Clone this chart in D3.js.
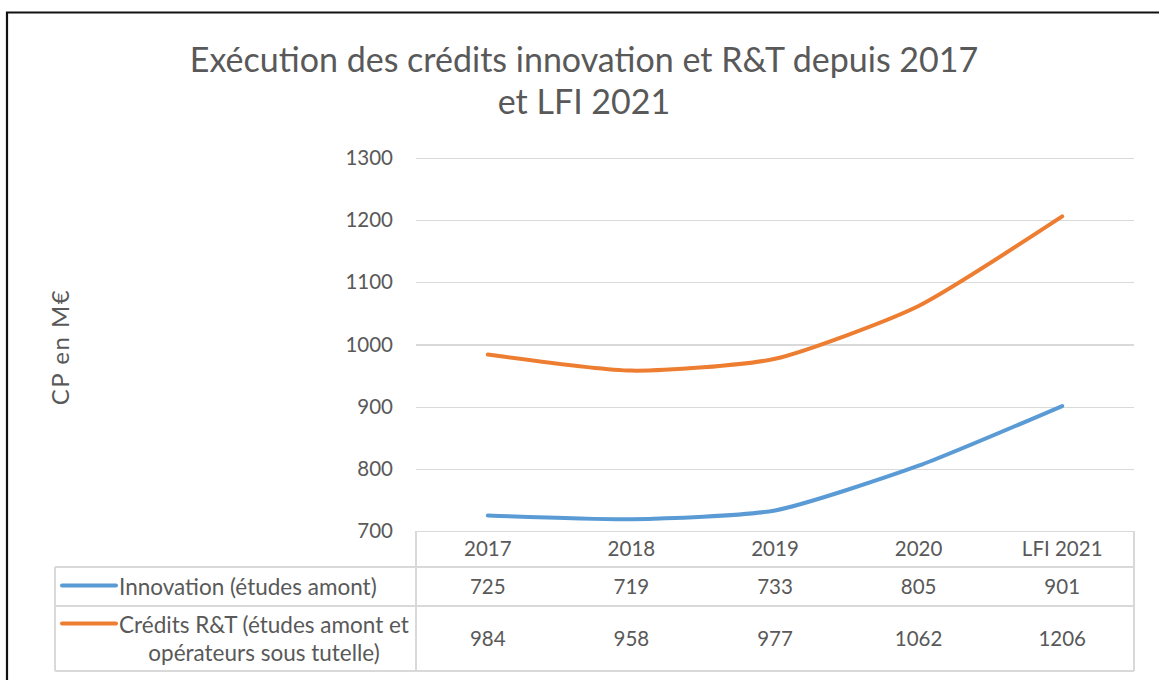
<!DOCTYPE html>
<html>
<head>
<meta charset="utf-8">
<script src="https://cdn.jsdelivr.net/npm/d3@7"></script>
<style>
  html, body { margin:0; padding:0; background:#fff; }
  svg text { font-family: Lato, "Open Sans", sans-serif; fill:#595959; }
  .grid line { stroke:#d9d9d9; stroke-width:1.3; shape-rendering:crispEdges; }
  .grid .domain { display:none; }
  .tbl line { stroke:#d9d9d9; stroke-width:1.3; shape-rendering:crispEdges; }
</style>
</head>
<body>
<svg id="chart" width="1159" height="680"></svg>
<script>
// données
const categories = ["2017", "2018", "2019", "2020", "LFI 2021"];
const innovation = [725, 719, 733, 805, 901];
const creditsRT  = [984, 958, 977, 1062, 1206];
const yTicks = [700, 800, 900, 1000, 1100, 1200, 1300];

const series = [
  { name: ["Innovation (études amont)"], values: innovation, color: "#5b9bd5" },
  { name: ["Crédits R&T (études amont et", "opérateurs sous tutelle)"], values: creditsRT, color: "#ed7d31" }
];

(() => {
const svg = d3.select("#chart");

// cadre noir (haut + gauche)
svg.append("path")
  .attr("d", "M7,680 V12.5 H1159")
  .attr("fill", "none").attr("stroke", "#111").attr("stroke-width", 2.2);

// titre
const title = svg.append("text")
  .attr("text-anchor", "middle")
  .style("font-size", "34px");
title.append("tspan").attr("x", 584).attr("y", 72).text("Exécution des crédits innovation et R&T depuis 2017");
title.append("tspan").attr("x", 584).attr("y", 114).text("et LFI 2021");

// zone de tracé
const pL = 416, pR = 1134, pT = 158, pB = 531;
const x = d3.scaleBand().domain(categories).range([pL, pR]);
const y = d3.scaleLinear().domain([700, 1300]).range([pB, pT]);

// grille + graduations
const gy = svg.append("g").attr("class", "grid")
  .attr("transform", `translate(${pL},0)`)
  .call(d3.axisLeft(y).tickValues(yTicks).tickFormat(d3.format("d"))
    .tickSize(-(pR - pL)).tickPadding(23));
gy.selectAll("text").style("font-size", "20.5px").attr("fill", "#595959");

// titre axe Y
svg.append("text")
  .attr("transform", "translate(69,347) rotate(-90)")
  .attr("text-anchor", "middle")
  .style("font-size", "24px")
  .style("letter-spacing", "1.5px")
  .text("CP en M€");

// tableau de données
const rowY = [531, 567, 606, 671];
const tbl = svg.append("g").attr("class", "tbl");
tbl.append("line").attr("x1", pL).attr("x2", pL).attr("y1", rowY[0]).attr("y2", rowY[3]);
tbl.append("line").attr("x1", pR).attr("x2", pR).attr("y1", rowY[0]).attr("y2", rowY[3]);
tbl.append("line").attr("x1", 55).attr("x2", 55).attr("y1", rowY[1]).attr("y2", rowY[3]);
[rowY[1], rowY[2], rowY[3]].forEach(yy => {
  tbl.append("line").attr("x1", 55).attr("x2", pR).attr("y1", yy).attr("y2", yy);
});

// en-têtes de colonnes
svg.append("g").selectAll("text")
  .data(categories)
  .join("text")
  .attr("x", d => x(d) + x.bandwidth() / 2)
  .attr("y", (rowY[0] + rowY[1]) / 2 + 7)
  .attr("text-anchor", "middle")
  .style("font-size", "20.5px")
  .text(d => d);

// lignes du tableau (légende + valeurs)
series.forEach((s, i) => {
  const cy = (rowY[i + 1] + rowY[i + 2]) / 2;
  const g = svg.append("g");
  const lineY = s.name.length > 1 ? cy - 15 : cy - 1;
  g.append("line")
    .attr("x1", 62).attr("x2", 116).attr("y1", lineY).attr("y2", lineY)
    .attr("stroke", s.color).attr("stroke-width", 4).attr("stroke-linecap", "round");
  if (s.name.length === 1) {
    g.append("text").attr("x", 119).attr("y", cy + 8).style("font-size", "22.5px").text(s.name[0]);
  } else {
    s.name.forEach((t, k) => {
      g.append("text").attr("x", 264).attr("y", cy - 6 + k * 28)
        .attr("text-anchor", "middle").style("font-size", "22.5px").text(t);
    });
  }
  g.selectAll("text.val")
    .data(s.values)
    .join("text")
    .attr("class", "val")
    .attr("x", (d, j) => x(categories[j]) + x.bandwidth() / 2)
    .attr("y", cy + 7)
    .attr("text-anchor", "middle")
    .style("font-size", "20.5px")
    .text(d => d);
});

// courbes
const line = d3.line()
  .x((d, j) => x(categories[j]) + x.bandwidth() / 2)
  .y(d => y(d))
  .curve(d3.curveCardinal.tension(0.4));

series.forEach(s => {
  svg.append("path")
    .datum(s.values)
    .attr("d", line)
    .attr("fill", "none")
    .attr("stroke", s.color)
    .attr("stroke-width", 4)
    .attr("stroke-linecap", "round");
});
})();
</script>
</body>
</html>
